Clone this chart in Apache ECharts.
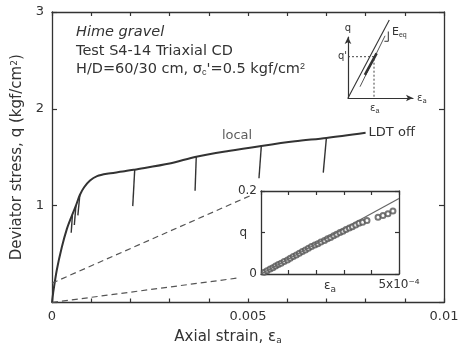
<!DOCTYPE html>
<html>
<head>
    <meta charset="UTF-8">
    <title>Hime gravel triaxial CD</title>
    <script src="https://cdn.jsdelivr.net/npm/echarts@6/dist/echarts.min.js"></script>
    <style>
        body { margin: 0; background: #fff; }
    </style>
</head>
<body>
    <div id="chart" style="width:465px; height:352px;"></div>
    <script>
        // main stress-strain curve (strain, q)
        var curve = [
            [0, 0], [0.00003, 0.10], [0.00012, 0.33], [0.00025, 0.57], [0.00038, 0.76],
            [0.0005, 0.89], [0.00061, 1.0], [0.00071, 1.11], [0.00082, 1.19], [0.00097, 1.26],
            [0.00115, 1.305], [0.0014, 1.33], [0.0018, 1.352], [0.0021, 1.372], [0.0030, 1.435],
            [0.00368, 1.506], [0.0045, 1.565], [0.00534, 1.617], [0.0062, 1.665], [0.0070, 1.70],
            [0.0080, 1.754]
        ];
        // unload / reload branches
        var loops = [
            [[0.00052, 0.90], [0.00049, 0.72]],
            [[0.00061, 1.0], [0.00057, 0.80]],
            [[0.00071, 1.11], [0.00066, 0.90]],
            [[0.00211, 1.372], [0.00206, 0.995]],
            [[0.00368, 1.506], [0.00365, 1.155]],
            [[0.00534, 1.617], [0.00528, 1.283]],
            [[0.00700, 1.700], [0.00692, 1.341]]
        ];
        // guide lines towards the inset
        var guideUpper = [[0, 0.2], [0.00513, 1.116]];
        var guideLower = [[0, 0], [0.0048, 0.256]];
        var notePos = [[0.00472, 1.72]];
        var noteText = ['local'];

        // inset: small strain data
        var insetLine = [[0, 0], [0.0005, 0.182]];
        var insetStrain = [
            0.12, 0.22, 0.33, 0.43, 0.53, 0.63, 0.73, 0.84, 0.96, 1.06,
            1.17, 1.28, 1.39, 1.50, 1.61, 1.72, 1.83, 1.95, 2.06, 2.17,
            2.30, 2.41, 2.52, 2.63, 2.74, 2.86, 2.97, 3.08, 3.20, 3.31,
            3.43, 3.55, 3.68, 3.84, 4.24, 4.42, 4.60, 4.78
        ];
        var insetQ = [
            0.004, 0.008, 0.012, 0.015, 0.019, 0.023, 0.026, 0.030, 0.034, 0.038,
            0.042, 0.046, 0.050, 0.054, 0.058, 0.062, 0.066, 0.070, 0.073, 0.077,
            0.081, 0.085, 0.088, 0.092, 0.096, 0.100, 0.103, 0.107, 0.111, 0.114,
            0.118, 0.122, 0.125, 0.129, 0.137, 0.141, 0.145, 0.152
        ];

        // schematic sketch (unit box)
        var sketchSecant = [[0, 0], [0.635, 1.28]];
        var sketchTangent = [[0.185, 0.185], [0.57, 1.02]];
        var sketchThick = [[0.26, 0.38], [0.44, 0.73]];
        var sketchTri = [[0.56, 0.93], [0.62, 0.93], [0.62, 1.09]];
        var sketchP = [0.4, 0.677];

        var ink = '#333';
        var font = 'DejaVu Sans';
        var sub = { fontSize: 9, fontFamily: font, padding: [7, 0, 0, 0] };
        var sup = { fontSize: 9, fontFamily: font, padding: [0, 0, 6, 0] };

        var chart = echarts.init(document.getElementById('chart'), null, {renderer: 'canvas'});

        function near(a, b) { return Math.abs(a - b) < 1e-9; }

        function frameAxis(grid, pos, min, max, step, extra) {
            var ax = {
                type: 'value', gridIndex: grid, position: pos, min: min, max: max, interval: step,
                axisLine: { show: true, onZero: false, lineStyle: { color: ink, width: 1.3 } },
                axisTick: { show: true, inside: true, length: 4, lineStyle: { color: ink, width: 1.2 } },
                axisLabel: { show: false },
                splitLine: { show: false }
            };
            return Object.assign(ax, extra || {});
        }

        var series = [];
        series.push({
            type: 'line', xAxisIndex: 0, yAxisIndex: 0, data: curve, smooth: 0.3,
            showSymbol: false, lineStyle: { color: ink, width: 2 },
            endLabel: { show: true, formatter: 'LDT off', color: ink, fontSize: 13, fontFamily: font, distance: 3 }
        });
        loops.forEach(function (seg) {
            series.push({
                type: 'line', xAxisIndex: 0, yAxisIndex: 0, data: seg, showSymbol: false,
                lineStyle: { color: ink, width: 1.4 }
            });
        });
        [guideUpper, guideLower].forEach(function (g) {
            series.push({
                type: 'line', xAxisIndex: 0, yAxisIndex: 0, data: g, showSymbol: false,
                lineStyle: { color: '#555', width: 1.2, type: [6, 4] }
            });
        });
        series.push({
            type: 'scatter', xAxisIndex: 0, yAxisIndex: 0, symbolSize: 0,
            data: notePos.map(function (p, i) { return { value: p, name: noteText[i] }; }),
            label: { show: true, formatter: '{b}', color: ink, fontSize: 13, fontFamily: font, position: 'inside' }
        });
        series.push({
            type: 'line', xAxisIndex: 2, yAxisIndex: 2, data: insetLine, showSymbol: false,
            lineStyle: { color: '#666', width: 1.2 }
        });
        series.push({
            type: 'scatter', xAxisIndex: 2, yAxisIndex: 2, symbol: 'emptyCircle', symbolSize: 5,
            data: insetStrain.map(function (s, i) { return [s * 1e-4, insetQ[i]]; }),
            itemStyle: { color: '#555', borderColor: '#555', borderWidth: 1 }
        });
        // sketch
        series.push({
            type: 'line', xAxisIndex: 4, yAxisIndex: 4, data: sketchSecant, showSymbol: false, clip: false,
            lineStyle: { color: ink, width: 1.1 }
        });
        series.push({
            type: 'line', xAxisIndex: 4, yAxisIndex: 4, data: sketchTangent, showSymbol: false, clip: false,
            lineStyle: { color: '#555', width: 1 }
        });
        series.push({
            type: 'line', xAxisIndex: 4, yAxisIndex: 4, data: sketchThick, showSymbol: false, clip: false,
            lineStyle: { color: ink, width: 2.6 }
        });
        series.push({
            type: 'line', xAxisIndex: 4, yAxisIndex: 4, data: sketchTri, showSymbol: false, clip: false,
            lineStyle: { color: ink, width: 1 }
        });
        series.push({
            type: 'line', xAxisIndex: 4, yAxisIndex: 4,
            data: [[0, sketchP[1]], sketchP, [sketchP[0], 0]], showSymbol: false, clip: false,
            lineStyle: { color: '#444', width: 1, type: [2, 2] }
        });

        var option = {
            backgroundColor: '#fff',
            animation: false,
            textStyle: { fontFamily: font },
            grid: [
                { left: 52, top: 12, width: 392, height: 290.5 },
                { left: 261, top: 191, width: 138, height: 83 },
                { left: 348, top: 37, width: 65, height: 61 }
            ],
            xAxis: [
                frameAxis(0, 'bottom', 0, 0.01, 0.001, {
                    axisLabel: {
                        show: true, color: ink, fontSize: 13, margin: 8,
                        formatter: function (v) {
                            if (near(v, 0)) return '0';
                            if (near(v, 0.005)) return '0.005';
                            if (near(v, 0.01)) return '0.01';
                            return '';
                        }
                    },
                    name: 'Axial strain, ε{s|a}', nameLocation: 'middle', nameGap: 27, nameMoveOverlap: false,
                    nameTextStyle: { color: ink, fontSize: 15, fontFamily: font, padding: [0, 40, 0, 0], rich: { s: sub } }
                }),
                frameAxis(0, 'top', 0, 0.01, 0.001),
                frameAxis(1, 'bottom', 0, 0.0005, 0.0001, {
                    axisLabel: {
                        show: true, color: ink, fontSize: 12, margin: 5,
                        formatter: function (v) { return near(v, 0.0005) ? '5x10⁻⁴' : ''; }
                    },
                    name: 'ε{s|a}', nameLocation: 'middle', nameGap: 4, nameMoveOverlap: false,
                    nameTextStyle: { color: ink, fontSize: 12, fontFamily: font, rich: { s: sub } }
                }),
                frameAxis(1, 'top', 0, 0.0005, 0.0001),
                {
                    type: 'value', gridIndex: 2, min: 0, max: 1,
                    axisLine: { show: true, symbol: ['none', 'arrow'], symbolSize: [5, 7], lineStyle: { color: ink, width: 1.2 } },
                    axisTick: { show: false }, axisLabel: { show: false }, splitLine: { show: false },
                    name: 'ε{s|a}', nameGap: 4,
                    nameTextStyle: { color: ink, fontSize: 10, fontFamily: font, rich: { s: { fontSize: 7, padding: [6, 0, 0, 0] } } }
                }
            ],
            yAxis: [
                frameAxis(0, 'left', 0, 3, 1, {
                    axisTick: { show: true, inside: true, length: 5, lineStyle: { color: ink, width: 1.2 } },
                    axisLabel: {
                        show: true, color: ink, fontSize: 13, margin: 8,
                        formatter: function (v) { return v === 0 ? '' : String(v); }
                    },
                    name: 'Deviator stress, q (kgf/cm{p|2})', nameLocation: 'middle', nameGap: 27, nameMoveOverlap: false,
                    nameTextStyle: { color: ink, fontSize: 15, fontFamily: font, rich: { p: sup } }
                }),
                frameAxis(0, 'right', 0, 3, 1, {
                    axisTick: { show: true, inside: true, length: 5, lineStyle: { color: ink, width: 1.2 } }
                }),
                frameAxis(1, 'left', 0, 0.2, 0.1, {
                    axisLabel: {
                        show: true, color: ink, fontSize: 12, margin: 4,
                        formatter: function (v) { return near(v, 0) ? '0' : (near(v, 0.2) ? '0.2' : ''); }
                    },
                    name: 'q', nameLocation: 'middle', nameGap: 14, nameRotate: 0, nameMoveOverlap: false,
                    nameTextStyle: { color: ink, fontSize: 12, fontFamily: font }
                }),
                frameAxis(1, 'right', 0, 0.2, 0.1),
                {
                    type: 'value', gridIndex: 2, min: 0, max: 1,
                    axisLine: { show: true, symbol: ['none', 'arrow'], symbolSize: [5, 7], lineStyle: { color: ink, width: 1.2 } },
                    axisTick: { show: false }, axisLabel: { show: false }, splitLine: { show: false },
                    name: 'q', nameGap: 4,
                    nameTextStyle: { color: ink, fontSize: 10, fontFamily: font }
                }
            ],
            graphic: [
                { type: 'text', left: 76, top: 25, style: { text: 'Hime gravel', font: 'oblique 14.5px "DejaVu Sans"', fill: ink } },
                { type: 'text', left: 76, top: 44, style: { text: 'Test S4-14 Triaxial CD', font: '14.5px "DejaVu Sans"', fill: ink } },
                {
                    type: 'text', left: 76, top: 62,
                    style: {
                        text: 'H/D=60/30 cm, σ{s|c}\'=0.5 kgf/cm{p|2}', font: '14.5px "DejaVu Sans"', fill: ink,
                        rich: { s: { fontSize: 9, padding: [7, 0, 0, 0], fill: ink }, p: { fontSize: 9, padding: [0, 0, 6, 0], fill: ink } }
                    }
                },
                {
                    type: 'text', left: 338, top: 51,
                    style: { text: "q'", font: '10px "DejaVu Sans"', fill: ink }
                },
                {
                    type: 'text', left: 370, top: 103,
                    style: { text: 'ε{s|a}', font: '10px "DejaVu Sans"', fill: ink, rich: { s: { fontSize: 7, padding: [6, 0, 0, 0], fill: ink } } }
                },
                {
                    type: 'text', left: 392, top: 27,
                    style: { text: 'E{s|eq}', font: '11px "DejaVu Sans"', fill: ink, rich: { s: { fontSize: 7, padding: [6, 0, 0, 0], fill: ink } } }
                }
            ],
            series: series
        };
        chart.setOption(option);
    </script>
</body>
</html>
